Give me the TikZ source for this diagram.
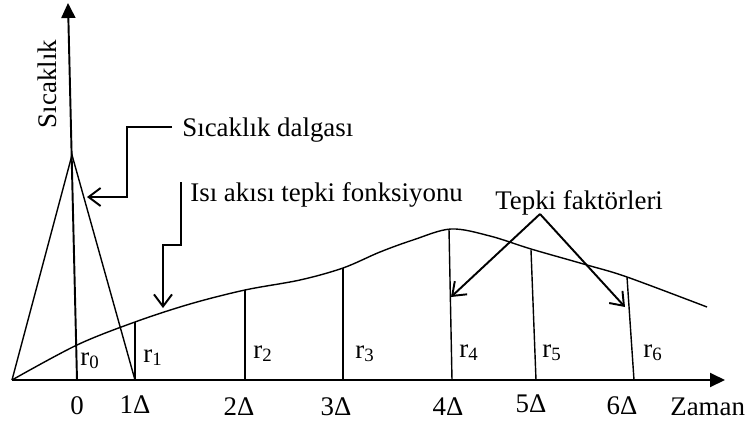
\documentclass[tikz,border=0pt]{standalone}
\usepackage{fontspec}
\setmainfont{Liberation Serif}
\usetikzlibrary{arrows.meta}

\begin{document}
\begin{tikzpicture}[
  x=0.02cm, y=-0.02cm,
  every node/.style={font=\fontsize{15.3}{18}\selectfont, inner sep=0pt},
  axis/.style={-{Triangle[length=3mm, width=2.8mm]}, line width=1.1pt},
  curve/.style={line width=0.8pt},
  bar/.style={line width=0.8pt},
  leader/.style={-{Straight Barb[length=2.4mm, width=3.6mm]}, line width=1.1pt},
  lab/.style={anchor=base},
  rlab/.style={anchor=base west}
]
\useasboundingbox (0,0) rectangle (754,426);

\coordinate (o) at (12,380);
\coordinate (xend) at (725,380);
\coordinate (yend) at (68,3);
\coordinate (peak) at (72,155);

\coordinate (b0) at (77,380);
\coordinate (b1) at (135,380);
\coordinate (b2) at (245,380);
\coordinate (b3) at (343,380);
\coordinate (b4) at (452,380);
\coordinate (b5) at (536,380);
\coordinate (b6) at (634,380);

\coordinate (c1) at (135,322);
\coordinate (c2) at (245,290);
\coordinate (c3) at (343,268);
\coordinate (c4) at (449,229);
\coordinate (c5) at (531,250);
\coordinate (c6) at (627,277);

\draw[curve] (o) -- (peak) -- (b1);
\draw[curve] plot[smooth, tension=0.55] coordinates {(12,380) (77,345) (135,322) (190,304) (245,290) (300,280) (343,268) (380,252) (413,240) (451,229) (490,236) (531,249) (587,265) (627,277) (707,307)};

\draw[bar] (c1) -- (b1);
\draw[bar] (c2) -- (b2);
\draw[bar] (c3) -- (b3);
\draw[bar] (c4) -- (b4);
\draw[bar] (c5) -- (b5);
\draw[bar] (c6) -- (b6);

\draw[axis] (o) -- (xend);
\draw[axis] (b0) -- (yend);

\node[rotate=90] (ylab) at (47,84) {Sıcaklık};
\node[anchor=base west] (xlab) at (670,415) {Zaman};

\node[lab] (l0) at (77,414) {0};
\node[lab] (l1) at (135,413) {1Δ};
\node[lab] (l2) at (239,415) {2Δ};
\node[lab] (l3) at (336,415) {3Δ};
\node[lab] (l4) at (448,415) {4Δ};
\node[lab] (l5) at (531,412) {5Δ};
\node[lab] (l6) at (622,414) {6Δ};

\node[rlab] (r0) at (80,365) {r\textsubscript{0}};
\node[rlab] (r1) at (143,362) {r\textsubscript{1}};
\node[rlab] (r2) at (253,358) {r\textsubscript{2}};
\node[rlab] (r3) at (355,358) {r\textsubscript{3}};
\node[rlab] (r4) at (459,357) {r\textsubscript{4}};
\node[rlab] (r5) at (542,357) {r\textsubscript{5}};
\node[rlab] (r6) at (643,357) {r\textsubscript{6}};

\node[anchor=base west] (wave) at (182,136) {Sıcaklık dalgası};
\node[anchor=base west] (flux) at (190,201) {Isı akısı tepki fonksiyonu};
\node[anchor=base west] (fact) at (495,209) {Tepki faktörleri};

\coordinate (wavetip) at (87,197);
\coordinate (fluxstart) at (181,182);
\coordinate (fluxtip) at (163,308);
\coordinate (apex) at (540,214);
\coordinate (tip4) at (451,297);
\coordinate (tip6) at (625,307);

\draw[leader] ([xshift=-0.2cm]wave.base west) ++(0,-9) -- ++(-45,0) |- (wavetip);
\draw[leader] (fluxstart) -- ++(0,63) -| (fluxtip);
\draw[leader] (apex) -- (tip4);
\draw[leader] (apex) -- (tip6);

\end{tikzpicture}
\end{document}
